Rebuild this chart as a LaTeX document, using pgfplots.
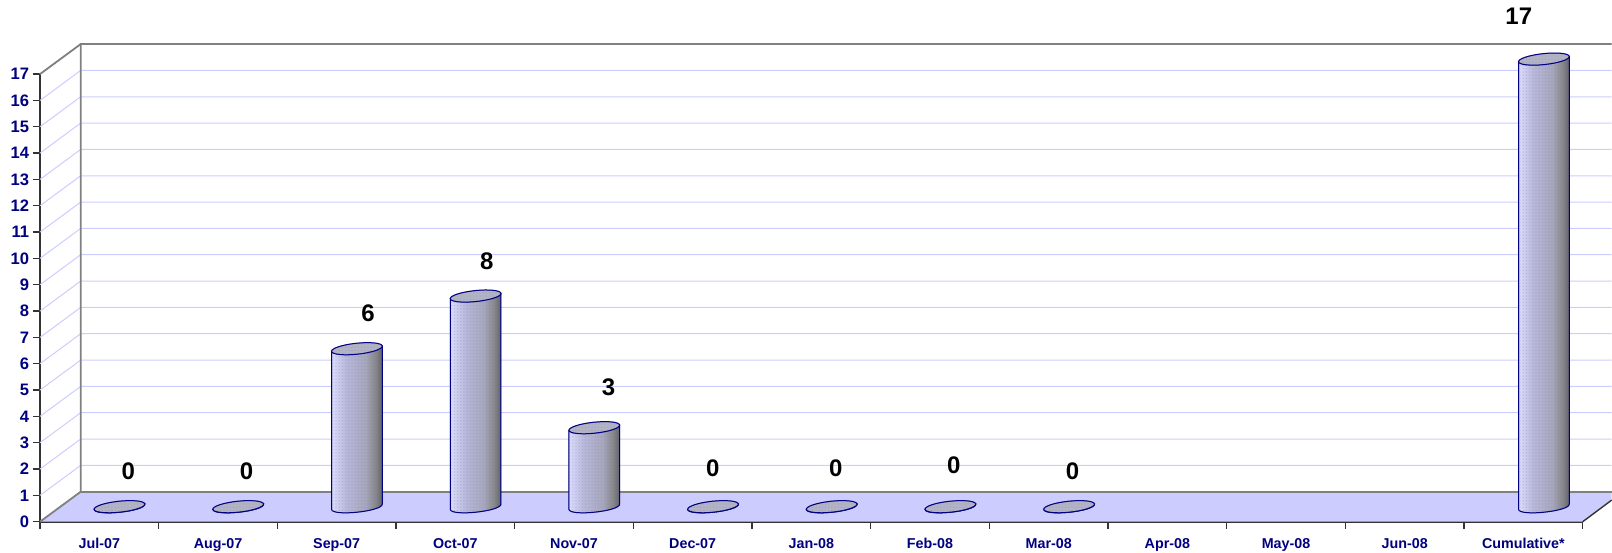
\documentclass[border=0pt]{standalone}
\usepackage{fontspec}
\setmainfont{Liberation Sans}
\usepackage{pgfplots}
\pgfplotsset{compat=1.18}
\usetikzlibrary{patterns}
\definecolor{NavyText}{HTML}{000080}
\definecolor{GridLav}{HTML}{CCCCFF}
\definecolor{WallGray}{HTML}{808080}
\definecolor{AxisDark}{HTML}{333333}
\definecolor{CapGray}{HTML}{A6A6BE}
\pgfdeclarehorizontalshading{cyl}{100bp}{
  color(0bp)=(GridLav!70!white);
  color(25bp)=(GridLav!70!white);
  color(40bp)=(CapGray!55!GridLav);
  color(58bp)=(CapGray);
  color(68bp)=(WallGray!85!CapGray);
  color(75bp)=(black!45!CapGray);
  color(100bp)=(black!45!CapGray)}
% fine dots over the bars
\pgfdeclarepatternformonly{finedots}{\pgfqpoint{-0.5pt}{-0.5pt}}{\pgfqpoint{0.5pt}{0.5pt}}{\pgfqpoint{1.6pt}{1.6pt}}{
  \pgfpathcircle{\pgfqpoint{0pt}{0pt}}{0.35pt}\pgfusepath{fill}}
% one cylinder, drawn at the data point (its top centre); 26.33 px per unit
\newcommand{\cylinder}{%
  \pgfmathsetmacro{\h}{\val*26.33}%
  \begin{scope}[x=0.5pt,y=0.5pt,line width=0.5pt]
    \path[draw=NavyText,shading=cyl,
      postaction={pattern=finedots,pattern color=WallGray,opacity=0.3}]
      (-25.36,-2.67) -- (-25.36,{-2.67-\h})
      .. controls (-24.6,{-9.96-\h}) and (26.13,{-4.63-\h}) .. (25.36,{2.67-\h})
      -- (25.36,2.67) -- cycle;
    \path[draw=NavyText,fill=CapGray!85!white,
      postaction={pattern=finedots,pattern color=WallGray,opacity=0.3}]
      (25.36,2.67) .. controls (25.04,5.69) and (13.43,6.945) .. (-0.575,5.47)
      .. controls (-14.58,3.995) and (-25.68,0.35) .. (-25.36,-2.67)
      .. controls (-25.04,-5.69) and (-13.43,-6.945) .. (0.575,-5.47)
      .. controls (14.58,-3.995) and (25.68,-0.35) .. (25.36,2.67) -- cycle;
  \end{scope}}
\begin{document}
\begin{tikzpicture}[x=1pt,y=1pt]
\useasboundingbox (0,0) rectangle (806,276);
\clip (0,0) rectangle (806,276);
% frame: floor, walls, grid, ticks
\begin{axis}[
  at={(20pt,15.15pt)},anchor=south west,
  scale only axis,width=771.35pt,height=223.8pt,
  xmin=0,xmax=13,ymin=0,ymax=17,
  clip=false,
  axis lines*=left,
  axis line style={-,draw=AxisDark,line width=0.9pt},
  tick style={draw=AxisDark,line width=0.6pt},
  tick align=outside,
  major tick length=3.7pt,
  ytick={0,1,...,17},
  xtick={0,1,...,13},
  xticklabels={},
  extra x ticks={0.5,1.5,...,12.5},
  extra x tick labels={Jul-07,Aug-07,Sep-07,Oct-07,Nov-07,Dec-07,Jan-08,Feb-08,Mar-08,Apr-08,May-08,Jun-08,Cumulative*},
  extra x tick style={major tick length=0pt,
    tick label style={font=\fontsize{7.15}{8}\selectfont\bfseries,text=NavyText,
      text height=5.2pt,text depth=0pt,yshift=-4.6pt}},
  tick label style={font=\fontsize{8.3}{9}\selectfont\bfseries,text=NavyText},
  yticklabel style={xshift=1.8pt},
  /pgf/number format/assume math mode=true,
]
\fill[GridLav] (axis cs:0,0) -- (axis cs:13,0) -- (axis cs:13.244,0.82)
  -- (axis cs:13.244,1.139) -- (axis cs:0.343,1.139) -- cycle;
\pgfplotsinvokeforeach{1,...,17}{
  \draw[GridLav,line width=0.5pt] (axis cs:0,#1) -- (axis cs:0.343,{#1+1.139}) -- (axis cs:13.244,{#1+1.139});
}
\draw[WallGray,line width=0.9pt] (axis cs:0.343,1.139) -- (axis cs:13.244,1.139);
\draw[WallGray,line width=0.9pt] (axis cs:0,0) -- (axis cs:0.343,1.139) -- (axis cs:0.343,18.14) -- (axis cs:13.244,18.14);
\draw[WallGray,line width=0.9pt] (axis cs:0,17) -- (axis cs:0.343,18.14);
\draw[AxisDark,line width=0.7pt] (axis cs:13,0) -- (axis cs:13.244,0.82);
\end{axis}
% data: same box, the zero level of the values sits on the floor
\begin{axis}[
  at={(20pt,15.15pt)},anchor=south west,
  scale only axis,width=771.35pt,height=223.8pt,
  xmin=-0.6698,xmax=12.3268,ymin=-0.57,ymax=16.43,
  clip=false,axis lines=none,
]
\addplot[scatter,only marks,mark=*,mark size=0pt,
  scatter/use mapped color={draw=none,fill=none},
  point meta=y,
  visualization depends on={rawy \as \val},
  scatter/@pre marker code/.append code={\cylinder}]
  coordinates {(0,0)(1,0)(2,6)(3,8)(4,3)(5,0)(6,0)(7,0)(8,0)(12,17)};
% value labels, at the places they have in the picture
\addplot[draw=none,mark=none,point meta=explicit symbolic,
  nodes near coords,
  every node near coord/.style={anchor=center,text=black,
    font=\fontsize{12}{13}\selectfont\bfseries}]
  table[meta=label] {
  x y label
  0.075 1.356 0
  1.071 1.356 0
  2.093 7.334 6
  3.095 9.33 8
  4.12 4.52 3
  4.998 1.47 0
  6.035 1.47 0
  7.028 1.584 0
  8.028 1.356 0
  11.788 18.62 17
};
\end{axis}
\end{tikzpicture}
\end{document}
